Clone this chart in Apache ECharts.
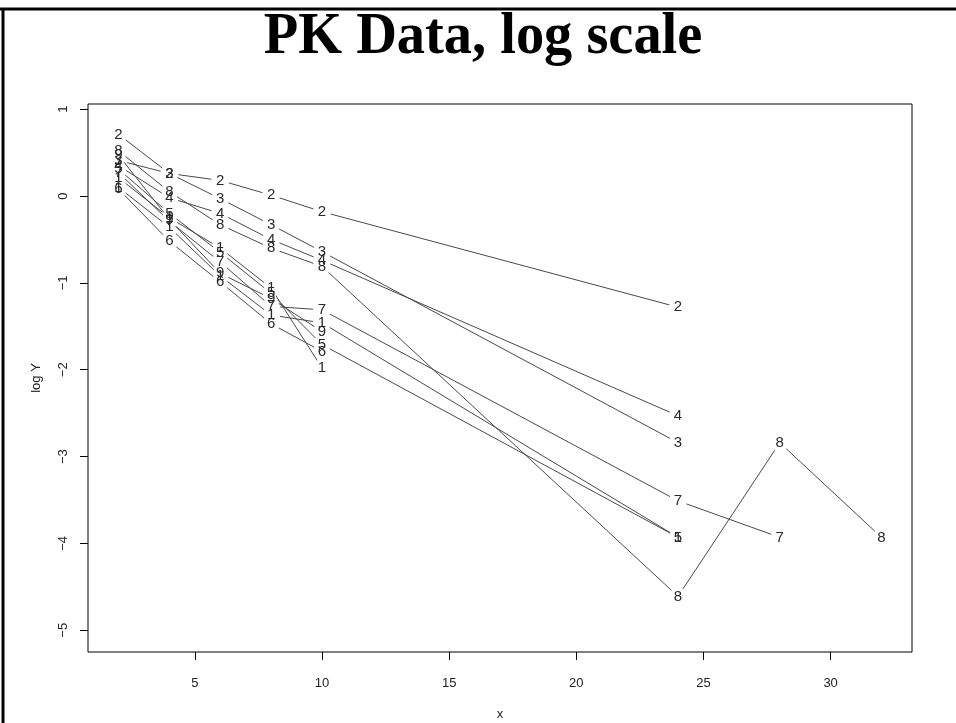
<!DOCTYPE html>
<html>
<head>
<meta charset="utf-8">
<title>PK Data, log scale</title>
<script src="https://cdn.jsdelivr.net/npm/echarts@6/dist/echarts.min.js"></script>
<style>
  html, body { margin: 0; padding: 0; background: #fff; }
  #chart { width: 956px; height: 723px; }
</style>
</head>
<body>
<div id="chart"></div>
<script>
// sampling times (hours)
const times = [2, 4, 6, 8, 10, 24];
const timesShort = [2, 4, 6, 8, 10];
const times7 = [2, 4, 6, 8, 10, 24, 28];
const times8 = [2, 4, 6, 8, 10, 24, 28, 32];

// log concentration per subject
const logY1 = [0.10, -0.36, -0.92, -1.37, -1.46, -3.93];
const logY2 = [0.71, 0.26, 0.18, 0.01, -0.18, -1.28];
const logY3 = [0.41, 0.26, -0.03, -0.33, -0.64, -2.84];
const logY4 = [0.35, -0.02, -0.20, -0.50, -0.74, -2.53];
const logY5 = [0.31, -0.20, -0.65, -1.12, -1.71, -3.93];
const logY6 = [0.08, -0.52, -0.99, -1.47, -1.79];
const logY7 = [0.27, -0.29, -0.76, -1.27, -1.31, -3.51, -3.93];
const logY8 = [0.52, 0.05, -0.33, -0.60, -0.81, -4.61, -2.84, -3.93];
const logY9 = [0.47, -0.27, -0.89, -1.18, -1.56];
const logY10 = [0.21, -0.25, -0.60, -1.06, -1.98];

// R only prints the first character of pch, so subject 10 shows as "1"
const subjectLabels = ['1', '2', '3', '4', '5', '6', '7', '8', '9', '1'];
const subjectTimes = [times, times, times, times, times, timesShort, times7, times8, timesShort, timesShort];
const subjectValues = [logY1, logY2, logY3, logY4, logY5, logY6, logY7, logY8, logY9, logY10];

const xTicks = [5, 10, 15, 20, 25, 30];
const yTicks = [-5, -4, -3, -2, -1, 0, 1];

const GAP = 9; // type = "b": line stops short of the point label

const chart = echarts.init(document.getElementById('chart'));

const series = subjectLabels.map((lab, s) => {
  const xs = subjectTimes[s];
  const ys = subjectValues[s];
  return {
    type: 'custom',
    name: 'subject ' + (s + 1),
    data: xs.map((x, i) => [x, ys[i]]),
    renderItem: function (params, api) {
      const i = params.dataIndex;
      const p = api.coord([api.value(0), api.value(1)]);
      const children = [{
        type: 'text',
        x: p[0],
        y: p[1],
        style: {
          text: lab,
          align: 'center',
          verticalAlign: 'middle',
          font: '15px "Liberation Sans", Arial, sans-serif',
          fill: '#2a2a2a'
        }
      }];
      if (i < xs.length - 1) {
        const q = api.coord([xs[i + 1], ys[i + 1]]);
        const dx = q[0] - p[0];
        const dy = q[1] - p[1];
        const d = Math.sqrt(dx * dx + dy * dy);
        if (d > 2 * GAP) {
          children.push({
            type: 'line',
            shape: {
              x1: p[0] + dx / d * GAP,
              y1: p[1] + dy / d * GAP,
              x2: q[0] - dx / d * GAP,
              y2: q[1] - dy / d * GAP
            },
            style: { stroke: '#4a4a4a', lineWidth: 1 }
          });
        }
      }
      return { type: 'group', children: children };
    }
  };
});

const axisFont = {
  color: '#222',
  fontSize: 13,
  fontFamily: '"Liberation Sans", Arial, sans-serif'
};

const option = {
  animation: false,
  backgroundColor: '#fff',
  graphic: [
    // slide frame
    { type: 'line', shape: { x1: 0, y1: 9, x2: 956, y2: 9 }, style: { stroke: '#000', lineWidth: 3 } },
    { type: 'line', shape: { x1: 3, y1: 9, x2: 3, y2: 723 }, style: { stroke: '#000', lineWidth: 3 } },
    {
      type: 'text',
      x: 483,
      y: 37,
      scaleX: 0.94,
      style: {
        text: 'PK Data, log scale',
        align: 'center',
        verticalAlign: 'middle',
        font: 'bold 60px "Liberation Serif", "Times New Roman", serif',
        fill: '#000'
      }
    }
  ],
  grid: {
    left: 88,
    right: 44,
    top: 104,
    bottom: 71,
    outerBoundsMode: 'none',
    containLabel: false,
    show: true,
    borderColor: '#000',
    borderWidth: 1
  },
  xAxis: {
    type: 'value',
    min: 0.8,
    max: 33.2,
    name: 'x',
    nameLocation: 'middle',
    nameGap: 56,
    nameTextStyle: axisFont,
    axisLine: { show: false, onZero: false },
    axisTick: { show: true, length: 8, customValues: xTicks, lineStyle: { color: '#000' } },
    axisLabel: Object.assign({ margin: 25, customValues: xTicks }, axisFont),
    splitLine: { show: false }
  },
  yAxis: {
    type: 'value',
    min: -5.25,
    max: 1.06,
    name: 'log Y',
    nameLocation: 'middle',
    nameGap: 45,
    nameRotate: 90,
    nameTextStyle: axisFont,
    axisLine: { show: false, onZero: false },
    axisTick: { show: true, length: 8, customValues: yTicks, lineStyle: { color: '#000' } },
    axisLabel: Object.assign({
      margin: 18,
      rotate: 90,
      customValues: yTicks,
      formatter: v => (v < 0 ? '\u2212' + Math.abs(v) : String(v))
    }, axisFont),
    splitLine: { show: false }
  },
  series: series
};

chart.setOption(option);
</script>
</body>
</html>
